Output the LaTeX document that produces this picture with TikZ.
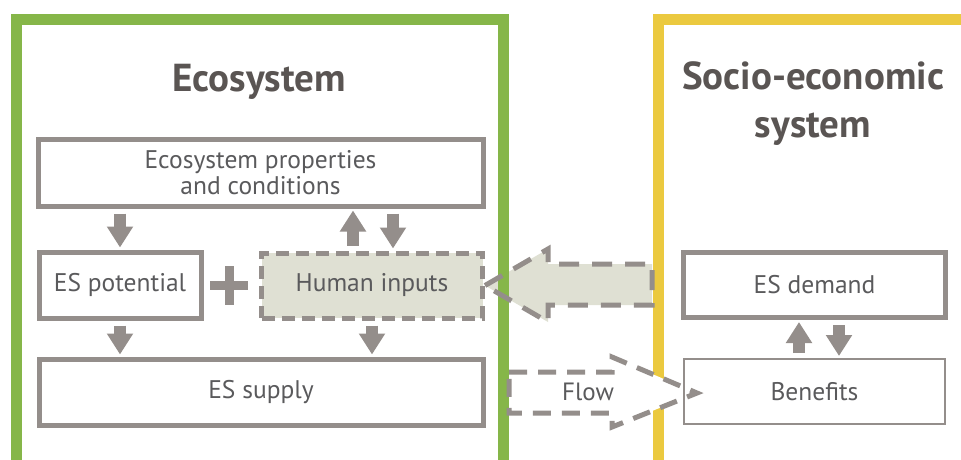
\documentclass[tikz,border=0pt]{standalone}
\usepackage{fontspec}
\setmainfont{PT Sans}
\usetikzlibrary{arrows.meta}
\definecolor{frgreen}{HTML}{86B649}
\definecolor{fryellow}{HTML}{EBC93F}
\definecolor{boxgray}{HTML}{948E8B}
\definecolor{txtgray}{HTML}{5A5A5C}
\definecolor{ttlgray}{HTML}{5A5553}
\definecolor{hfill}{HTML}{DFE0D3}
\begin{document}
\begin{tikzpicture}[x=1pt,y=-1pt,
  frame/.style={line width=11pt},
  sbox/.style={draw=boxgray,line width=5pt,fill=white,inner sep=0pt,align=center,
    font=\fontsize{25.5}{25.5}\selectfont,text=txtgray},
  thinbox/.style={sbox,line width=2pt,fill=none},
  dbox/.style={sbox,dash pattern=on 13pt off 7pt,fill=hfill},
  title/.style={font=\fontsize{39}{48}\selectfont\bfseries,text=ttlgray,align=center},
  fat/.style={draw=boxgray,line width=12pt,-{Triangle[width=25pt,length=21pt]},shorten <=5pt,shorten >=2pt},
  bigarrow/.style={draw=boxgray,line width=5pt,dash pattern=on 20pt off 13pt},
  lbl/.style={font=\fontsize{25}{25}\selectfont,text=txtgray}
]
\useasboundingbox (0,0) rectangle (961,459);
% frames
\draw[frame,draw=frgreen] (16,19) rectangle (503,470);
\draw[frame,draw=fryellow] (658.5,19) rectangle (990,470);
% titles
\node[title] (t1) at (259,82) {Ecosystem};
\node[title] (t2) at (813,104) {Socio-economic\\system};
% boxes
\node[sbox,minimum width=445pt,minimum height=67pt] (props) at (260.5,172.5) {Ecosystem properties\\and conditions};
\node[sbox,minimum width=162pt,minimum height=66pt] (pot) at (120,285) {ES potential};
\node[dbox,minimum width=221pt,minimum height=65pt] (human) at (372,285.5) {Human inputs};
\node[sbox,minimum width=444pt,minimum height=66pt] (supply) at (261,392) {ES supply};
\node[sbox,minimum width=262pt,minimum height=65pt] (demand) at (814.5,285) {ES demand};
% plus
\draw[boxgray,line width=9pt] (210,285) -- (248,285) (229,266) -- (229,305);
% small arrows
\draw[fat] (props.south -| 120,0) -- (pot.north -| 120,0);
\draw[fat] (human.north -| 353,0) -- (props.south -| 353,0);
\draw[fat] (props.south -| 393,0) -- (human.north -| 393,0);
\draw[fat] (pot.south -| 120,0) -- (supply.north -| 120,0);
\draw[fat] (human.south -| 372,0) -- (supply.north -| 372,0);
% big arrow to human inputs
\coordinate (hin) at (652,285);
\fill[hfill] (human.east) -- (548,249) -- (548,264) -- (hin |- 0,264) -- (hin |- 0,305) -- (548,305) -- (548,322) -- cycle;
\draw[frgreen,line width=11pt] (503,240) -- (503,330);
\draw[bigarrow] (human.east) -- (548,249) -- (548,264) -- (hin |- 0,264) -- (hin |- 0,305) -- (548,305) -- (548,322) -- cycle;
% flow arrow
\coordinate (fs) at (509,392.5);
\coordinate (ft) at (697,393);
\draw[bigarrow,dash pattern=on 18pt off 11pt,fill=white] (fs |- 0,372) -- (612,372) -- (612,357) -- (ft) -- (612,427) -- (612,413) -- (fs |- 0,413) -- cycle;
\node[lbl] (flow) at (588,392) {Flow};
% benefits (after the flow arrow so its edge shows)
\node[thinbox,minimum width=261pt,minimum height=65pt] (benef) at (814.5,391.5) {Benefits};
\draw[fat] (benef.north -| 799,0) -- (demand.south -| 799,0);
\draw[fat] (demand.south -| 839,0) -- (benef.north -| 839,0);
\end{tikzpicture}
\end{document}
